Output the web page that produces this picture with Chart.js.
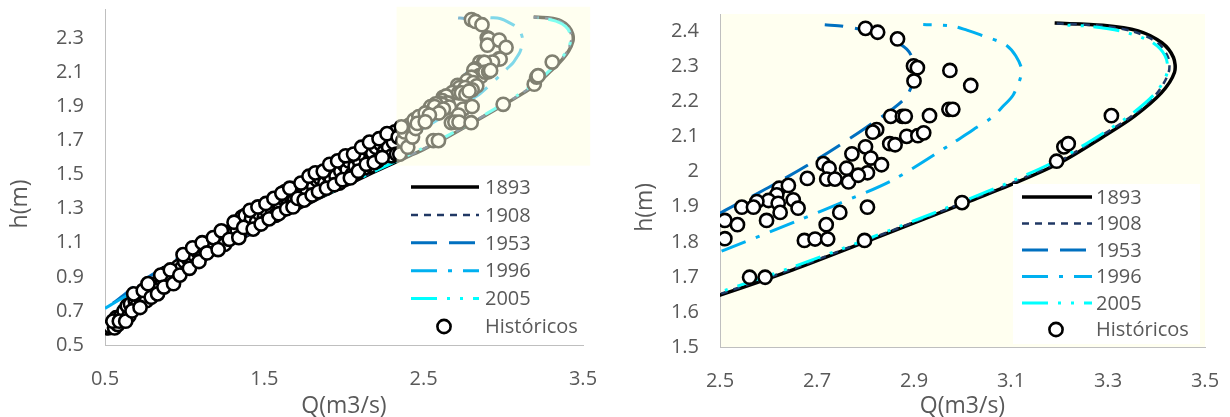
<!DOCTYPE html>
<html>
<head>
<meta charset="utf-8">
<script src="https://cdn.jsdelivr.net/npm/chart.js@4.4.1/dist/chart.umd.min.js"></script>
<style>
  html, body { margin: 0; padding: 0; background: #fff; overflow: hidden; width: 1230px; height: 417px; }
  canvas { position: absolute; top: 0; }
  #leftChart { left: 0; }
  #rightChart { left: 615px; }
</style>
</head>
<body>
<canvas id="leftChart" width="615" height="425"></canvas>
<canvas id="rightChart" width="615" height="425"></canvas>
<script>
// rating curves, Q (m3/s) against h (m)
const seriesNames = ['1893', '1908', '1953', '1996', '2005'];

const q1893 = [0.5, 0.6, 0.7, 0.8, 0.9, 1.0, 1.2, 1.4, 1.6, 1.8, 2.0, 2.2, 2.4, 2.5, 2.65, 2.8, 3.0, 3.1, 3.2, 3.29, 3.354, 3.41, 3.437, 3.435, 3.411, 3.362, 3.289, 3.19];
const h1893 = [0.6, 0.68, 0.744, 0.81, 0.865, 0.927, 1.04, 1.145, 1.245, 1.34, 1.43, 1.52, 1.605, 1.648, 1.72, 1.8, 1.908, 1.963, 2.025, 2.1, 2.158, 2.225, 2.283, 2.326, 2.368, 2.402, 2.418, 2.424];

const q1908 = [0.5, 0.6, 0.7, 0.8, 0.9, 1.0, 1.2, 1.4, 1.6, 1.8, 2.0, 2.2, 2.4, 2.5, 2.65, 2.8, 3.0, 3.1, 3.2, 3.29, 3.35, 3.4, 3.425, 3.424, 3.402, 3.352, 3.28, 3.19];
const h1908 = [0.605, 0.684, 0.748, 0.813, 0.868, 0.93, 1.042, 1.147, 1.247, 1.342, 1.432, 1.522, 1.607, 1.651, 1.723, 1.803, 1.911, 1.967, 2.03, 2.106, 2.16, 2.222, 2.283, 2.326, 2.368, 2.4, 2.417, 2.423];

const q1953 = [0.55, 0.6, 0.7, 0.8, 1.0, 1.2, 1.5, 1.8, 2.0, 2.2, 2.35, 2.5, 2.6, 2.7, 2.8, 2.879, 2.898, 2.902, 2.885, 2.83, 2.754, 2.716];
const h1953 = [0.745, 0.78, 0.855, 0.915, 1.03, 1.135, 1.29, 1.44, 1.545, 1.66, 1.765, 1.882, 1.955, 2.035, 2.125, 2.206, 2.255, 2.30, 2.35, 2.392, 2.415, 2.419];

const q1996 = [0.5, 0.6, 0.8, 1.0, 1.2, 1.5, 1.8, 2.0, 2.1, 2.3, 2.51, 2.665, 2.747, 2.857, 2.98, 3.022, 3.06, 3.083, 3.105, 3.122, 3.11, 3.088, 3.036, 3.009, 2.978, 2.919];
const h1996 = [0.715, 0.77, 0.875, 0.99, 1.1, 1.26, 1.41, 1.51, 1.56, 1.665, 1.777, 1.863, 1.91, 1.977, 2.082, 2.12, 2.154, 2.186, 2.22, 2.287, 2.33, 2.363, 2.391, 2.404, 2.416, 2.42];

const q2005 = [0.5, 0.6, 0.7, 0.8, 1.0, 1.2, 1.4, 1.6, 1.8, 2.0, 2.2, 2.4, 2.5, 2.65, 2.8, 3.0, 3.1, 3.2, 3.29, 3.35, 3.4, 3.422, 3.418, 3.39, 3.33, 3.26, 3.216];
const h2005 = [0.63, 0.7, 0.76, 0.82, 0.935, 1.045, 1.148, 1.248, 1.343, 1.433, 1.523, 1.612, 1.657, 1.728, 1.806, 1.915, 1.972, 2.036, 2.11, 2.166, 2.228, 2.283, 2.33, 2.37, 2.4, 2.415, 2.418];

// historical gaugings
const qHist = [
  0.52, 0.53, 0.56, 0.58, 0.57, 0.60, 0.62, 0.65, 0.64, 0.66, 0.69, 0.71, 0.70, 0.73, 0.75, 0.76, 0.78, 0.80, 0.82, 0.84,
  0.86, 0.88, 0.90, 0.92, 0.94, 0.96, 0.98, 1.00, 1.02, 1.04, 1.06, 1.08, 1.10, 1.12, 1.15, 1.17, 1.20, 1.22, 1.24, 1.25,
  1.27, 1.30, 1.32, 1.33, 1.35, 1.36, 1.38, 1.40, 1.42, 1.44, 1.45, 1.47, 1.49, 1.50, 1.52, 1.54, 1.55, 1.57, 1.58, 1.60,
  1.62, 1.63, 1.65, 1.67, 1.69, 1.70, 1.72, 1.74, 1.76, 1.77, 1.79, 1.81, 1.83, 1.85, 1.86, 1.88, 1.90, 1.92, 1.93, 1.95,
  1.97, 1.98, 2.00, 2.02, 2.03, 2.05, 2.07, 2.08, 2.10, 2.12, 2.13, 2.15, 2.17, 2.18, 2.20, 2.21, 2.23, 2.25, 2.26, 2.28,
  2.29, 2.30, 2.31, 2.32,
  0.55, 0.59, 0.63, 0.67, 0.68, 0.72, 0.74, 0.77, 0.79, 0.83, 0.85, 0.87, 0.91, 0.93, 0.97, 0.99, 1.03, 1.05, 1.09, 1.11,
  1.14, 1.18, 1.21, 1.23, 1.28, 1.31, 1.34, 1.37, 1.41, 1.43, 1.46, 1.48, 1.51, 1.53, 1.56, 1.59, 1.61, 1.64, 1.66, 1.68,
  1.71, 1.73, 1.75, 1.78, 1.80, 1.82, 1.84, 1.87, 1.89, 1.91, 1.94, 1.96, 1.99, 2.01, 2.04, 2.06, 2.09, 2.11, 2.14, 2.16,
  2.19, 2.22, 2.24, 2.27, 2.33, 2.34,
  2.35, 2.37, 2.38, 2.40, 2.41, 2.43, 2.44, 2.45, 2.47, 2.46, 2.36,
  2.800, 2.825, 2.866, 2.899, 2.907, 2.900, 2.974, 3.017, 2.972, 2.980, 2.932, 2.852, 2.876, 2.882, 2.823, 2.815,
  2.850, 2.861, 2.885, 2.908, 2.920, 2.800, 2.772, 2.811, 2.833, 2.713, 2.725, 2.761, 2.804, 2.680, 2.720, 2.737,
  2.765, 2.622, 2.641, 2.617, 2.651, 2.600, 2.620, 2.576, 2.545, 2.569, 2.661, 2.624, 2.596, 2.510, 2.536, 2.510,
  2.747, 2.804, 2.719, 2.674, 2.696, 2.722, 2.798, 2.561, 2.593, 2.999, 3.194, 3.209, 3.218, 3.307, 2.785
];
const hHist = [
  0.60, 0.61, 0.60, 0.62, 0.66, 0.67, 0.70, 0.67, 0.73, 0.74, 0.76, 0.78, 0.73, 0.75, 0.80, 0.76, 0.83, 0.80, 0.86, 0.83,
  0.88, 0.92, 0.87, 0.90, 0.94, 0.96, 0.95, 0.99, 1.01, 0.98, 1.03, 1.05, 1.02, 1.07, 1.09, 1.08, 1.12, 1.10, 1.14, 1.09,
  1.16, 1.15, 1.20, 1.17, 1.22, 1.25, 1.26, 1.20, 1.24, 1.28, 1.22, 1.27, 1.30, 1.25, 1.28, 1.32, 1.29, 1.26, 1.34, 1.31,
  1.36, 1.40, 1.33, 1.37, 1.35, 1.40, 1.42, 1.38, 1.44, 1.40, 1.46, 1.43, 1.47, 1.48, 1.41, 1.45, 1.50, 1.47, 1.54, 1.49,
  1.45, 1.52, 1.56, 1.53, 1.58, 1.50, 1.55, 1.60, 1.57, 1.62, 1.54, 1.65, 1.60, 1.63, 1.66, 1.58, 1.68, 1.63, 1.70, 1.66,
  1.73, 1.61, 1.69, 1.75,
  0.64, 0.64, 0.64, 0.70, 0.80, 0.72, 0.82, 0.86, 0.78, 0.80, 0.91, 0.84, 0.94, 0.86, 0.91, 1.03, 0.95, 1.07, 0.99, 1.10,
  1.04, 1.13, 1.06, 1.17, 1.12, 1.22, 1.13, 1.19, 1.29, 1.18, 1.31, 1.21, 1.33, 1.24, 1.36, 1.27, 1.39, 1.30, 1.42, 1.31,
  1.36, 1.45, 1.35, 1.49, 1.38, 1.51, 1.40, 1.52, 1.42, 1.56, 1.44, 1.58, 1.47, 1.61, 1.48, 1.62, 1.52, 1.66, 1.56, 1.69,
  1.57, 1.71, 1.60, 1.74, 1.62, 1.72,
  1.62, 1.70, 1.75, 1.66, 1.79, 1.72, 1.82, 1.77, 1.84, 1.80, 1.78,
  2.409, 2.398, 2.379, 2.302, 2.297, 2.259, 2.289, 2.246, 2.178, 2.178, 2.160, 2.158, 2.158, 2.158, 2.120, 2.113,
  2.080, 2.077, 2.101, 2.103, 2.111, 2.071, 2.051, 2.039, 2.020, 2.023, 2.010, 2.010, 1.997, 1.981, 1.979, 1.979,
  1.971, 1.953, 1.961, 1.934, 1.920, 1.918, 1.910, 1.915, 1.899, 1.899, 1.896, 1.884, 1.861, 1.861, 1.849, 1.809,
  1.884, 1.899, 1.849, 1.804, 1.808, 1.808, 1.804, 1.699, 1.699, 1.912, 2.030, 2.071, 2.080, 2.160, 1.990
];

// axis ticks
const leftXTicks = [0.5, 1.5, 2.5, 3.5];
const leftYTicks = [0.5, 0.7, 0.9, 1.1, 1.3, 1.5, 1.7, 1.9, 2.1, 2.3];
const rightXTicks = [2.5, 2.7, 2.9, 3.1, 3.3, 3.5];
const rightYTicks = [1.5, 1.6, 1.7, 1.8, 1.9, 2, 2.1, 2.2, 2.3, 2.4];

// zoomed window marked on the left chart
const zoomBox = { qMin: 2.33, qMax: 3.545, hMin: 1.552, hMax: 2.484 };

const FONT = "'Open Sans', 'Liberation Sans', sans-serif";
const GREY = '#595959';
const MARK_R = 6.6;
const MARK_W = 2.6;

const lineStyles = [
  { color: '#000000', width: 3.5, dash: [] },
  { color: '#203864', width: 2.5, dash: [7, 6] },
  { color: '#0070C0', width: 3, dash: [26, 12] },
  { color: '#00B0F0', width: 3, dash: [26, 11, 4, 11] },
  { color: '#00FFFF', width: 3, dash: [26, 10, 3, 10, 3, 10] }
];

function pts(q, h) {
  return q.map((x, i) => ({ x: x, y: h[i] }));
}

function buildDatasets() {
  const curves = [[q1893, h1893], [q1908, h1908], [q1953, h1953], [q1996, h1996], [q2005, h2005]];
  const sets = curves.map((c, i) => ({
    label: seriesNames[i],
    data: pts(c[0], c[1]),
    showLine: true,
    pointRadius: 0,
    pointHoverRadius: 0,
    borderColor: lineStyles[i].color,
    borderWidth: lineStyles[i].width,
    borderDash: lineStyles[i].dash,
    tension: 0.3,
    order: 5 - i
  }));
  sets.push({
    label: 'Históricos',
    data: pts(qHist, hHist),
    showLine: false,
    pointRadius: MARK_R,
    pointBorderWidth: MARK_W,
    pointBorderColor: '#000000',
    pointBackgroundColor: '#FFFFFF',
    order: -1
  });
  return sets;
}

const insideLegend = {
  id: 'insideLegend',
  afterDraw(chart, args, o) {
    const ctx = chart.ctx;
    ctx.save();
    if (o.box) {
      ctx.fillStyle = '#FFFFFF';
      ctx.fillRect(o.box[0], o.box[1], o.box[2], o.box[3]);
    }
    ctx.font = '20px ' + FONT;
    ctx.textBaseline = 'middle';
    const names = seriesNames.concat(['Históricos']);
    names.forEach((name, i) => {
      const y = o.y + i * o.rowH;
      if (i < lineStyles.length) {
        ctx.beginPath();
        ctx.setLineDash(lineStyles[i].dash);
        ctx.lineWidth = lineStyles[i].width;
        ctx.strokeStyle = lineStyles[i].color;
        ctx.moveTo(o.x, y);
        ctx.lineTo(o.x + o.lineLen, y);
        ctx.stroke();
      } else {
        ctx.setLineDash([]);
        ctx.beginPath();
        ctx.arc(o.markX, y, MARK_R, 0, Math.PI * 2);
        ctx.fillStyle = '#FFFFFF';
        ctx.fill();
        ctx.lineWidth = MARK_W;
        ctx.strokeStyle = '#000000';
        ctx.stroke();
      }
      ctx.fillStyle = GREY;
      ctx.fillText(name, o.textX, y + 1);
    });
    ctx.restore();
  }
};

const zoomShade = {
  id: 'zoomShade',
  afterDatasetsDraw(chart) {
    const { ctx, scales: { x, y } } = chart;
    const x0 = x.getPixelForValue(zoomBox.qMin);
    const x1 = x.getPixelForValue(zoomBox.qMax);
    const y0 = y.getPixelForValue(zoomBox.hMax);
    const y1 = y.getPixelForValue(zoomBox.hMin);
    ctx.save();
    ctx.fillStyle = 'rgba(255,255,225,0.5)';
    ctx.fillRect(x0, y0, x1 - x0, y1 - y0);
    ctx.restore();
  }
};

const plotBackground = {
  id: 'plotBackground',
  beforeDraw(chart, args, o) {
    if (!o.color) return;
    const a = chart.chartArea;
    chart.ctx.save();
    chart.ctx.fillStyle = o.color;
    chart.ctx.fillRect(a.left, a.top, a.right - a.left, a.bottom - a.top);
    chart.ctx.restore();
  }
};

function axis(min, max, ticks, title, isX, size, titlePad) {
  return {
    type: 'linear',
    min: min,
    max: max,
    grid: { display: false, drawTicks: false },
    border: { display: true, color: '#BFBFBF', width: 1 },
    afterBuildTicks: s => { s.ticks = ticks.map(v => ({ value: v })); },
    ticks: {
      color: GREY,
      font: { family: FONT, size: 20 },
      padding: isX ? 22 : 21,
      autoSkip: false,
      maxRotation: 0,
      callback: v => String(v)
    },
    title: {
      display: true,
      text: title,
      color: GREY,
      font: { family: FONT, size: 23 },
      padding: titlePad
    },
    afterFit: s => {
      if (isX) s.height = size; else s.width = size;
      s.paddingTop = 0; s.paddingBottom = 0; s.paddingLeft = 0; s.paddingRight = 0;
    }
  };
}

function createChart(id, cfg) {
  return new Chart(document.getElementById(id), {
    type: 'scatter',
    data: { datasets: buildDatasets() },
    options: {
      responsive: false,
      animation: false,
      events: [],
      layout: { padding: cfg.padding },
      scales: {
        x: axis(cfg.xMin, cfg.xMax, cfg.xTicks, 'Q(m3/s)', true, cfg.xHeight, { top: 0, bottom: 5 }),
        y: axis(cfg.yMin, cfg.yMax, cfg.yTicks, 'h(m)         ', false, 105, { top: cfg.yTitlePad, bottom: 0 })
      },
      plugins: {
        legend: { display: false },
        tooltip: { enabled: false },
        insideLegend: cfg.legend,
        plotBackground: { color: cfg.bg }
      }
    },
    plugins: cfg.extra.concat([plotBackground, insideLegend])
  });
}

createChart('leftChart', {
  xMin: 0.5, xMax: 3.5, yMin: 0.5, yMax: 2.47,
  xTicks: leftXTicks, yTicks: leftYTicks,
  padding: { top: 9, right: 32, left: 0, bottom: 0 },
  xHeight: 80, yTitlePad: 7, bg: null,
  legend: { x: 411, y: 187, rowH: 27.9, lineLen: 68, textX: 485, markX: 444 },
  extra: [zoomShade]
});

createChart('rightChart', {
  xMin: 2.5, xMax: 3.5, yMin: 1.5, yMax: 2.45,
  xTicks: rightXTicks, yTicks: rightYTicks,
  padding: { top: 14, right: 25, left: 0, bottom: 0 },
  xHeight: 78, yTitlePad: 17, bg: '#FFFFF0',
  legend: { x: 407, y: 197, rowH: 26.5, lineLen: 70, textX: 481, markX: 441, box: [398, 184, 187, 160] },
  extra: []
});
</script>
</body>
</html>
